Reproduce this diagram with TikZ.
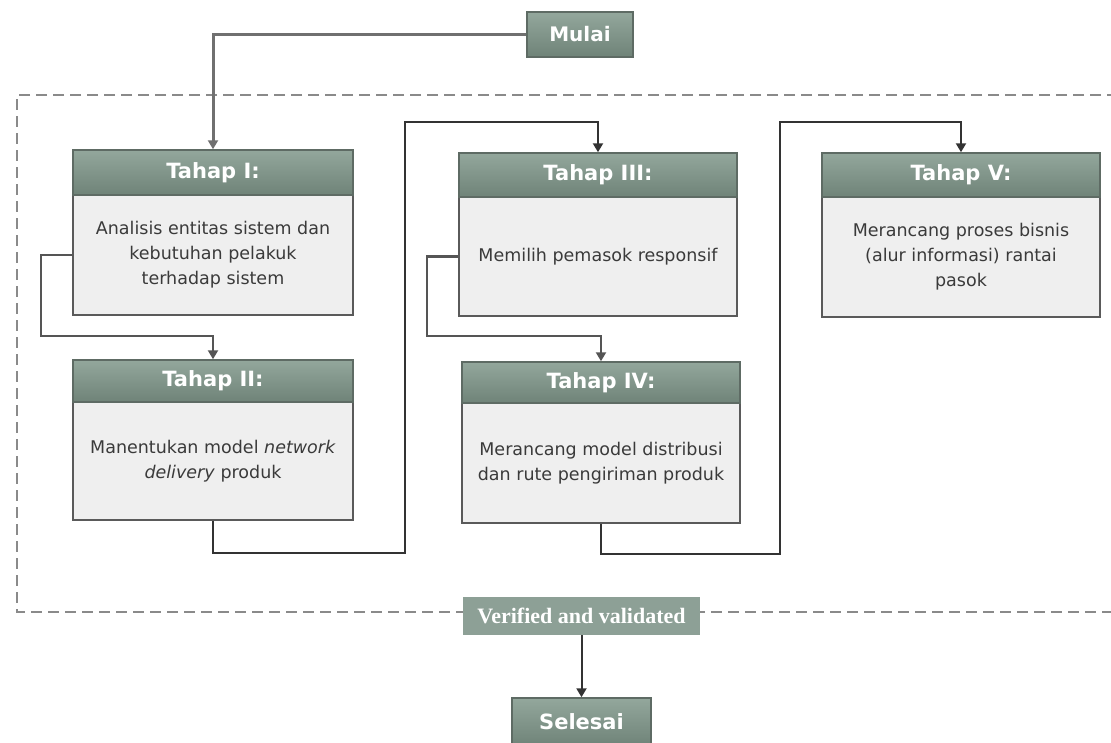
\documentclass[tikz,border=0pt]{standalone}
\usepackage{fontspec}
\setmainfont{DejaVu Sans}
\newfontfamily\serifbold{Liberation Serif}
\usetikzlibrary{arrows.meta,calc}

\definecolor{hdrtop}{HTML}{93A79C}
\definecolor{hdrbot}{HTML}{6F8378}
\definecolor{hdrline}{HTML}{5E6B64}
\definecolor{bodyfill}{HTML}{EFEFEF}
\definecolor{bodyline}{HTML}{5A5A5A}
\definecolor{bodytext}{HTML}{3A3A3A}
\definecolor{flatfill}{HTML}{8DA096}
\definecolor{linkdark}{HTML}{333333}
\definecolor{linkmid}{HTML}{555555}
\definecolor{linklight}{HTML}{707070}
\definecolor{frameline}{HTML}{8A8A8A}

\tikzset{
  header/.style={rectangle, top color=hdrtop, bottom color=hdrbot, draw=hdrline,
    line width=1.5pt, text=white, inner sep=0pt,
    font=\fontsize{21}{24}\selectfont\bfseries},
  bodybox/.style={rectangle, fill=bodyfill, draw=bodyline, line width=2pt,
    text=bodytext, align=center, inner sep=0pt,
    font=\fontsize{17.5}{25}\selectfont},
  flatbox/.style={rectangle, fill=flatfill, text=white, inner sep=0pt},
  link/.style={line width=2.2pt, draw=linkmid, line join=miter,
    -{Triangle[width=10pt,length=9pt]}},
  linkd/.style={link, draw=linkdark},
  framebox/.style={draw=frameline, line width=1.8pt, dash pattern=on 11pt off 6pt}
}

\begin{document}
\begin{tikzpicture}[x=1pt, y=-1pt]
  \clip (0,0) rectangle (1111,742);
  \fill[white] (0,0) rectangle (1111,742);

  % dashed boundary of the staged process
  \draw[framebox] (1135,95) -- (17,95) -- (17,612) -- (1135,612);

  % start
  \node[header, minimum width=106pt, minimum height=45pt, font=\fontsize{20}{24}\selectfont\bfseries]
    (start) at (580,34.5) {Mulai};

  % stage I
  \node[bodybox, minimum width=280pt, minimum height=120pt] (b1) at (213,255)
    {Analisis entitas sistem dan\\kebutuhan pelakuk\\terhadap sistem};
  \node[header, minimum width=280pt, minimum height=45pt] (h1) at (213,172.5) {Tahap I:};

  % stage II
  \node[bodybox, minimum width=280pt, minimum height=118pt] (b2) at (213,461)
    {Manentukan model \textit{network}\\\textit{delivery} produk};
  \node[header, minimum width=280pt, minimum height=42pt] (h2) at (213,381) {Tahap II:};

  % stage III
  \node[bodybox, minimum width=278pt, minimum height=119pt] (b3) at (598,256.5)
    {Memilih pemasok responsif};
  \node[header, minimum width=278pt, minimum height=44pt] (h3) at (598,175) {Tahap III:};

  % stage IV
  \node[bodybox, minimum width=278pt, minimum height=120pt] (b4) at (601,463)
    {Merancang model distribusi\\dan rute pengiriman produk};
  \node[header, minimum width=278pt, minimum height=41pt] (h4) at (601,382.5) {Tahap IV:};

  % stage V
  \node[bodybox, minimum width=278pt, minimum height=120pt] (b5) at (961,257)
    {Merancang proses bisnis\\(alur informasi) rantai\\pasok};
  \node[header, minimum width=278pt, minimum height=44pt] (h5) at (961,175) {Tahap V:};

  % verification and end
  \node[flatbox, minimum width=237pt, minimum height=38pt,
    font=\serifbold\fontsize{22}{24}\selectfont\bfseries] (ver) at (581.5,616) {Verified and validated};
  \node[header, minimum width=139pt, minimum height=48pt] (stop) at (581.5,722) {Selesai};

  % connectors
  \draw[link, draw=linklight, line width=3pt] (start.west) -| (h1.north);
  \draw[link] (b1.west) -- ++(-31,0) |- ($(h2.north)+(0,-23)$) -- (h2.north);
  \draw[linkd] (b2.south) -- ++(0,32) -| (405,122) -| (h3.north);
  \draw[link] (b3.west) -- ++(-31,0) |- ($(h4.north)+(0,-25)$) -- (h4.north);
  \draw[linkd] (b4.south) -- ++(0,30) -| (780,122) -| (h5.north);
  \draw[linkd, line width=2pt] (ver.south) -- (stop.north);
\end{tikzpicture}
\end{document}
